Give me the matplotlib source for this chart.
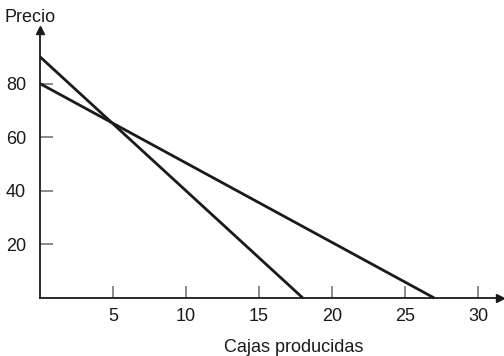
import matplotlib.pyplot as plt

plt.rcParams['font.family'] = ['Liberation Sans', 'DejaVu Sans']

# datos de las dos rectas
x1 = [0, 18]
y1 = [90, 0]
x2 = [0, 27]
y2 = [80, 0]
xticks = [5, 10, 15, 20, 25, 30]
yticks = [20, 40, 60, 80]

fig = plt.figure(figsize=(5.04, 3.56), dpi=100)
ax = fig.add_axes([40/504, 1-298/356, 460/504, 268/356])

ax.plot(x1, y1, color='#1a1a1a', lw=2, solid_capstyle='butt', clip_on=False)
ax.plot(x2, y2, color='#1a1a1a', lw=2, solid_capstyle='butt', clip_on=False)

ax.set_xlim(0, 31.5)
ax.set_ylim(0, 100)
for s in ['top', 'right']:
    ax.spines[s].set_visible(False)
for s in ['left', 'bottom']:
    ax.spines[s].set_color('#1a1a1a')
    ax.spines[s].set_linewidth(1.3)

# flechas de los ejes
ax.plot(1, 0, '>', color='#1a1a1a', ms=6, transform=ax.transAxes, clip_on=False)
ax.plot(0, 1, '^', color='#1a1a1a', ms=6, transform=ax.transAxes, clip_on=False)

ax.set_xticks(xticks)
ax.set_yticks(yticks)
ax.tick_params(direction='in', length=9, width=1.2, color='#777777',
               labelsize=13, labelcolor='#1a1a1a')
ax.tick_params(axis='x', pad=7)
ax.tick_params(axis='y', pad=10)

fig.text(5/504, 1-17/356, 'Precio', fontsize=13, va='center', ha='left', color='#1a1a1a')
fig.text(294/504, 1-347/356, 'Cajas producidas', fontsize=13, va='center', ha='center', color='#1a1a1a')

fig.savefig('out.png', dpi=100)
